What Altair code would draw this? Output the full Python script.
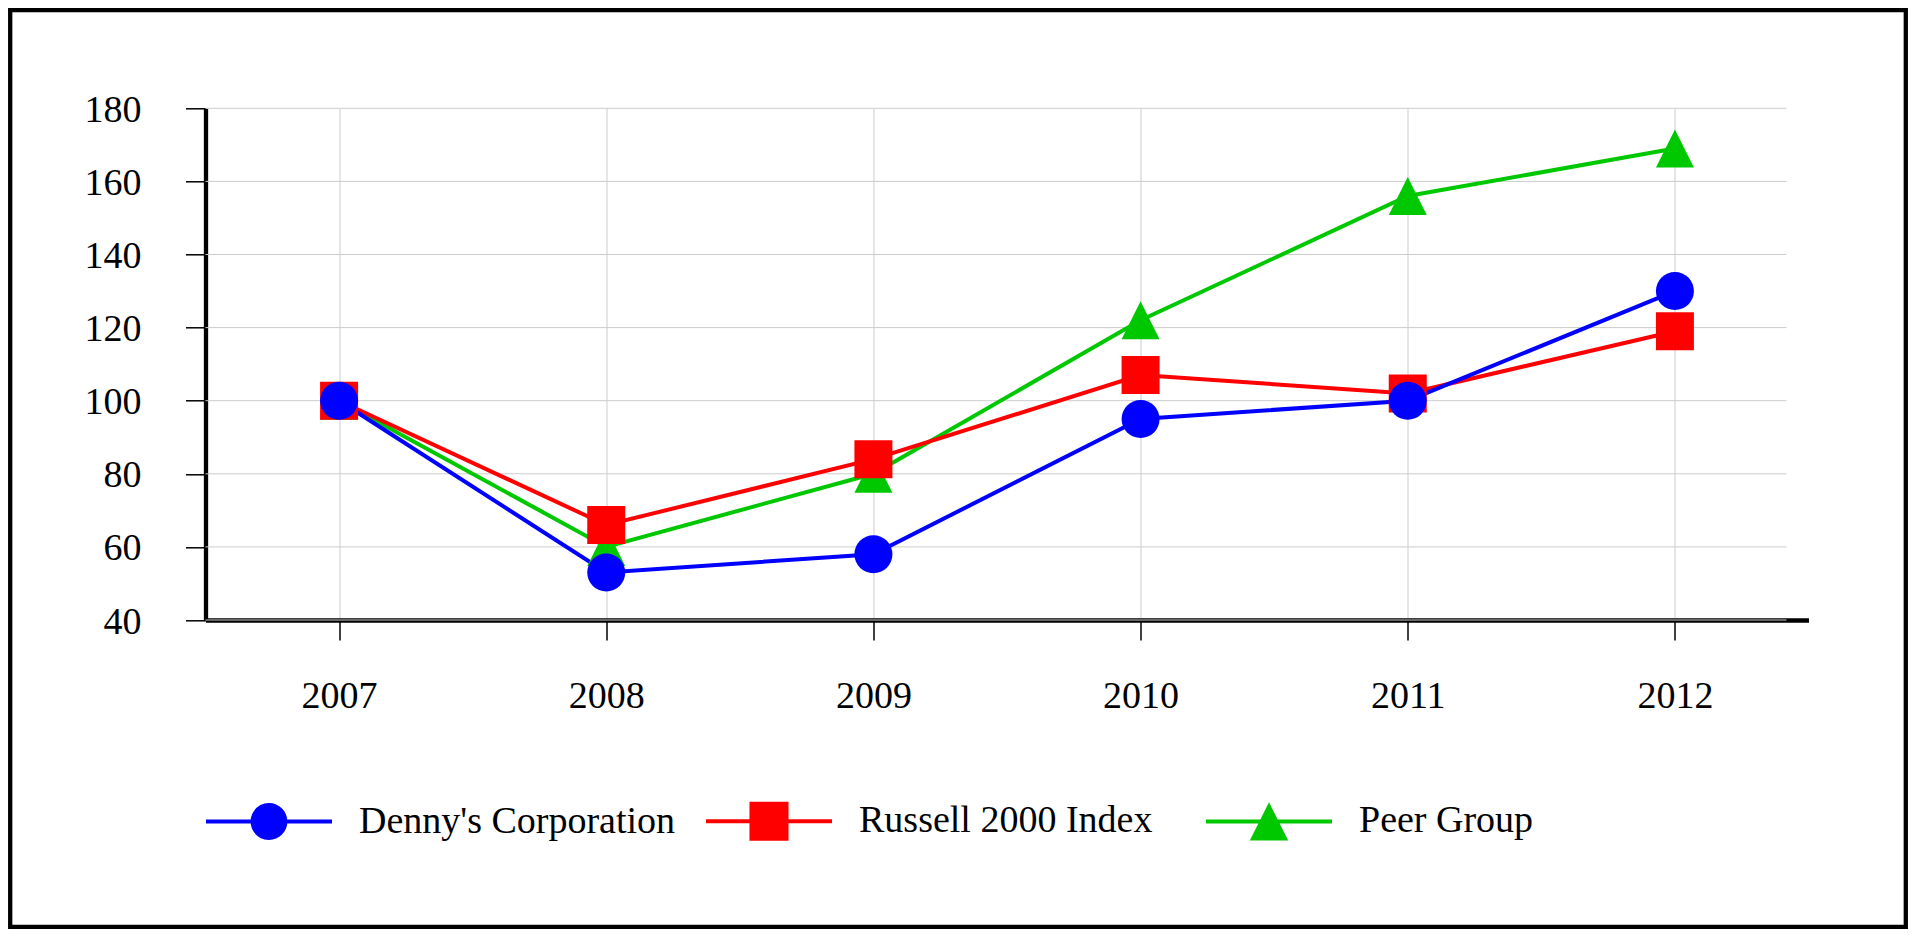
import altair as alt
import pandas as pd

# ---- data ----
years = ["2007", "2008", "2009", "2010", "2011", "2012"]
series_names = ["Denny's Corporation", "Russell 2000 Index", "Peer Group"]
dennys = [100, 53, 58, 95, 100, 130]
russell = [100, 66, 84, 107, 102, 119]
peer = [100, 60, 80, 122, 156, 169]
y_ticks = [40, 60, 80, 100, 120, 140, 160, 180]

colors = ["#0000ff", "#ff0000", "#00c800"]

series_values = {
    "Denny's Corporation": dennys,
    "Russell 2000 Index": russell,
    "Peer Group": peer,
}
draw_order = ["Peer Group", "Russell 2000 Index", "Denny's Corporation"]
rows = []
for s in draw_order:
    for yr, v in zip(years, series_values[s]):
        rows.append({"year": yr, "value": v, "series": s})
df = pd.DataFrame(rows)
grid_df = pd.DataFrame({"value": y_ticks})

# marker shapes in the plot
TRI = "M0,-1L1,1L-1,1Z"
chart_shapes = ["circle", "square", TRI]

# legend symbols: a line with the marker on it
LINE = "M-1,-0.032H1V0.032H-1Z"
leg_circle = LINE + "M-0.292,0A0.292,0.292,0,1,1,0.292,0A0.292,0.292,0,1,1,-0.292,0Z"
leg_square = LINE + "M-0.31,-0.31H0.31V0.31H-0.31Z"
leg_tri = LINE + "M0,-0.305L0.305,0.305L-0.305,0.305Z"
legend_shapes = [leg_circle, leg_square, leg_tri]

FONT = "Liberation Serif"
FS = 38

x_enc = alt.X(
    "year:O",
    scale=alt.Scale(type="point", padding=0.5),
    axis=alt.Axis(
        title=None, labelAngle=0, labelFont=FONT, labelFontSize=FS,
        labelColor="black", tickSize=20, tickWidth=1.5, tickColor="black",
        domainColor="black", domainWidth=4.3, labelPadding=37,
        grid=True, gridColor="#cccccc", gridWidth=1,
    ),
)
y_scale = alt.Scale(domain=[40, 180], nice=False, zero=False)
y_enc = alt.Y(
    "value:Q",
    scale=y_scale,
    axis=alt.Axis(
        title=None, values=y_ticks, labelFont=FONT, labelFontSize=FS,
        labelColor="black", tickSize=20, tickWidth=1.5, tickColor="black",
        domainColor="black", domainWidth=4.3, labelPadding=44.5,
        labelOffset=2, grid=False,
    ),
)
color_scale = alt.Scale(domain=series_names, range=colors)

# horizontal gridlines (they stop a little short of the x-axis end)
hgrid = alt.Chart(grid_df).mark_rule(color="#cccccc", strokeWidth=1).encode(
    y=alt.Y("value:Q", scale=y_scale), x=alt.value(0), x2=alt.value(1581)
)

lines = alt.Chart(df).mark_line(strokeWidth=4).encode(
    x=x_enc, y=y_enc,
    color=alt.Color("series:N", scale=color_scale, legend=None),
)

points = alt.Chart(df).mark_point(filled=True, opacity=1, size=1444).encode(
    x=x_enc, y=y_enc,
    color=alt.Color("series:N", scale=color_scale, legend=None),
    shape=alt.Shape("series:N", scale=alt.Scale(domain=series_names, range=chart_shapes), legend=None),
)

leg_props = dict(
    title=None, orient="none", legendX=0.5, legendY=649.7,
    direction="horizontal", columns=3,
    labelFont=FONT, labelFontSize=FS, labelColor="black", labelLimit=800,
    symbolSize=15876, symbolOffset=0, labelOffset=27,
    symbolStrokeWidth=0, symbolOpacity=1,
)

# legend-only layer: filtered to no rows, scales carry explicit domains
legend_layer = alt.Chart(df).transform_filter("datum.value < 0").mark_point(
    filled=True, size=15876, opacity=1
).encode(
    x=x_enc, y=y_enc,
    color=alt.Color("series:N", scale=color_scale, legend=alt.Legend(**leg_props)),
    shape=alt.Shape("series:N", scale=alt.Scale(domain=series_names, range=legend_shapes),
                    legend=alt.Legend(**leg_props)),
)

border = alt.Chart(alt.Data(values=[{"b": 1}])).mark_rect(
    fillOpacity=0, stroke="black", strokeWidth=4.3
).encode(
    x=alt.value(-195.3), x2=alt.value(1700.3), y=alt.value(-98.1), y2=alt.value(818.5)
)

chart = alt.layer(hgrid, lines, points, legend_layer, border).resolve_scale(
    color="independent", shape="independent"
).properties(
    width=1603, height=511.7,
    autosize=alt.AutoSizeParams(type="none"),
    padding={"left": 197.5, "top": 100.3, "right": 99.5, "bottom": 309},
    background="white",
).configure_view(stroke=None).configure_legend(
    padding=0, gridAlign="all", columnPadding=30
)

chart.save("out.html", embed_options={"renderer": "svg", "actions": False})
